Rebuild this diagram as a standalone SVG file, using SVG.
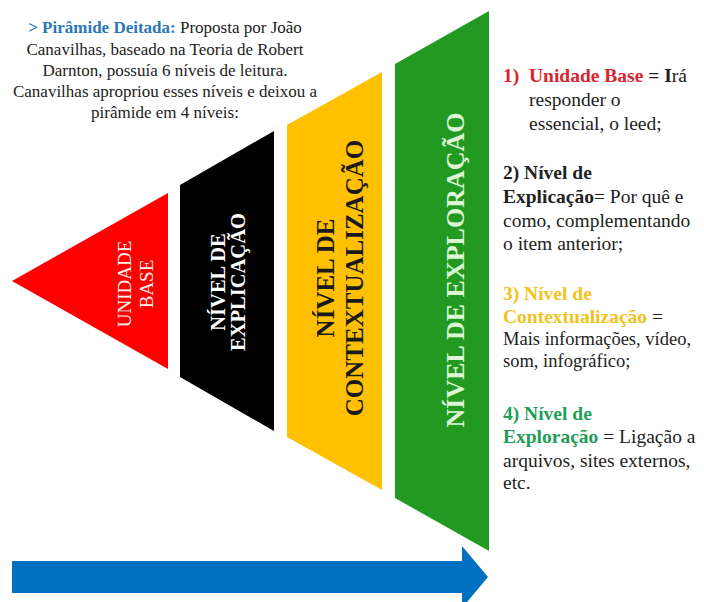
<svg xmlns="http://www.w3.org/2000/svg" width="704" height="602" viewBox="0 0 704 602">
<style>
text{font-family:"Liberation Serif","DejaVu Serif",serif;}
.intro{font-size:17px;fill:#222;}
.blue{fill:#2b78b5;font-weight:bold;}
.side{font-size:19.5px;fill:#222;}
.small{font-size:18.5px;}
.b{font-weight:bold;}
.red{fill:#d9232d;}
.yel{fill:#f2c31c;}
.grn{fill:#1f9e57;}
.lbl{text-anchor:middle;}
</style>
<rect width="704" height="602" fill="#ffffff"/>

<g id="intro">
<text class="intro" text-anchor="middle" x="165" y="33"><tspan class="blue">&gt; Pirâmide Deitada:</tspan> Proposta por João</text>
<text class="intro" text-anchor="middle" x="165" y="55">Canavilhas, baseado na Teoria de Robert</text>
<text class="intro" text-anchor="middle" x="165" y="76">Darnton, possuía 6 níveis de leitura.</text>
<text class="intro" text-anchor="middle" x="165" y="97">Canavilhas apropriou esses níveis e deixou a</text>
<text class="intro" text-anchor="middle" x="165" y="118">pirâmide em 4 níveis:</text>
</g>

<g id="unidade-base">
<polygon points="12,281 168,193 168,369" fill="#ff0000"/>
<text class="lbl" transform="translate(131,284) rotate(-90)" font-size="19" fill="#fff0f0">UNIDADE</text>
<text class="lbl" transform="translate(153,284) rotate(-90)" font-size="19" fill="#fff0f0">BASE</text>
</g>

<g id="nivel-explicacao">
<polygon points="180,185 274,131 274,431 180,377" fill="#000000"/>
<text class="lbl b" transform="translate(225,282) rotate(-90)" font-size="20.5" fill="#ffffff">NÍVEL DE</text>
<text class="lbl b" transform="translate(245,282) rotate(-90)" font-size="20.5" fill="#ffffff">EXPLICAÇÃO</text>
</g>

<g id="nivel-contextualizacao">
<polygon points="287,125 382,72 382,490 287,437" fill="#ffc000"/>
<text class="lbl b" transform="translate(334,278) rotate(-90)" font-size="25" fill="#1a1a1a">NÍVEL DE</text>
<text class="lbl b" transform="translate(363,278) rotate(-90)" font-size="25" fill="#1a1a1a">CONTEXTUALIZAÇÃO</text>
</g>

<g id="nivel-exploracao">
<polygon points="395,64 489,11 489,551 395,498" fill="#229a22"/>
<text class="lbl b" transform="translate(464,270) rotate(-90)" font-size="26" fill="#dcf5d4">NÍVEL DE EXPLORAÇÃO</text>
</g>

<g id="legend">
<text class="side" x="503" y="82"><tspan class="b red">1)</tspan><tspan class="b red" x="529">Unidade Base</tspan><tspan class="b"> = I</tspan>rá</text>
<text class="side" x="529" y="106">responder o</text>
<text class="side" x="529" y="130">essencial, o leed;</text>

<text class="side" x="503" y="179"><tspan class="b">2) Nível de</tspan></text>
<text class="side" x="503" y="203"><tspan class="b">Explicação</tspan>= Por quê e</text>
<text class="side" x="503" y="227">como, complementando</text>
<text class="side" x="503" y="250">o item anterior;</text>

<text class="side" x="503" y="300"><tspan class="b yel">3) Nível de</tspan></text>
<text class="side" x="503" y="323"><tspan class="b yel">Contextualização</tspan> =</text>
<text class="side small" x="503" y="345">Mais informações, vídeo,</text>
<text class="side small" x="503" y="367">som, infográfico;</text>

<text class="side" x="503" y="420"><tspan class="b grn">4) Nível de</tspan></text>
<text class="side" x="503" y="443"><tspan class="b grn">Exploração</tspan> = Ligação a</text>
<text class="side" x="503" y="467">arquivos, sites externos,</text>
<text class="side" x="503" y="489">etc.</text>
</g>

<g id="connectors">
<polygon id="arrow" points="12,561 462,561 462,546 488,577 462,608 462,593 12,593" fill="#0070c0"/>
</g>
</svg>
